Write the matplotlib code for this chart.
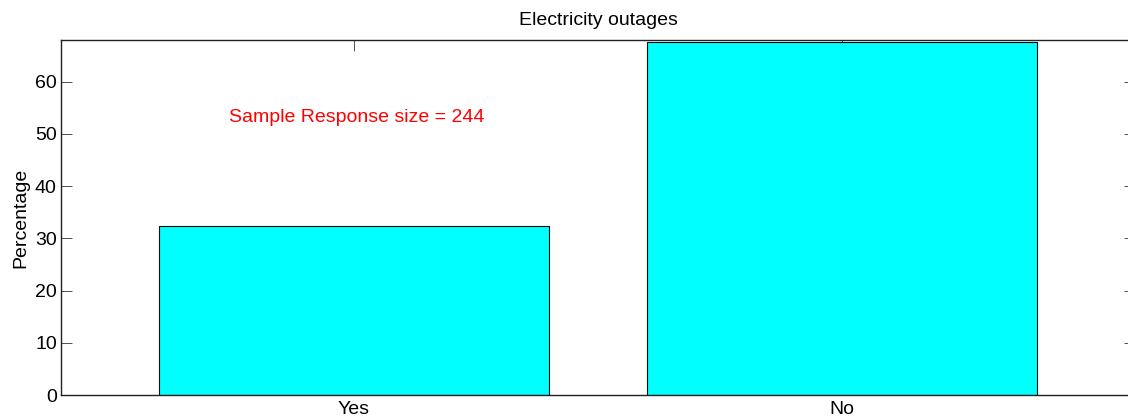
import matplotlib
matplotlib.use("Agg")
import matplotlib.pyplot as plt

categories = ["Yes", "No"]
percentages = [32.4, 67.6]
sample_size = 244
yticks = [0, 10, 20, 30, 40, 50, 60]

plt.rcParams['font.family'] = ['Liberation Sans', 'DejaVu Sans']

fig = plt.figure(figsize=(11.28, 4.17), dpi=100)
ax = fig.add_axes([61/1128, 22/417, (1135-61)/1128, (395-40)/417])

x = list(range(1, len(categories) + 1))
ax.bar(x, percentages, width=0.8, color=(0, 1, 1), edgecolor='black', linewidth=0.8, zorder=2)
ax.set_axisbelow(True)

ax.set_xlim(0.4, 2.6)
ax.set_ylim(0, 68)
ax.set_xticks(x)
ax.set_xticklabels(categories)
ax.set_yticks(yticks)

ax.tick_params(direction='in', length=8, width=0.6, labelsize=14,
               top=True, right=True, color='#333333', pad=3)
ax.tick_params(axis='x', pad=4)
for s in ax.spines.values():
    s.set_linewidth(1.0)
    s.set_color('#222222')

ax.set_ylabel("Percentage", fontsize=14, labelpad=4)
ax.set_title("Electricity outages", fontsize=14, pad=11)
ax.text(0.744, 53.1, f"Sample Response size = {sample_size}", color='red',
        fontsize=14, ha='left', va='center')

fig.savefig("out.png", dpi=100)
